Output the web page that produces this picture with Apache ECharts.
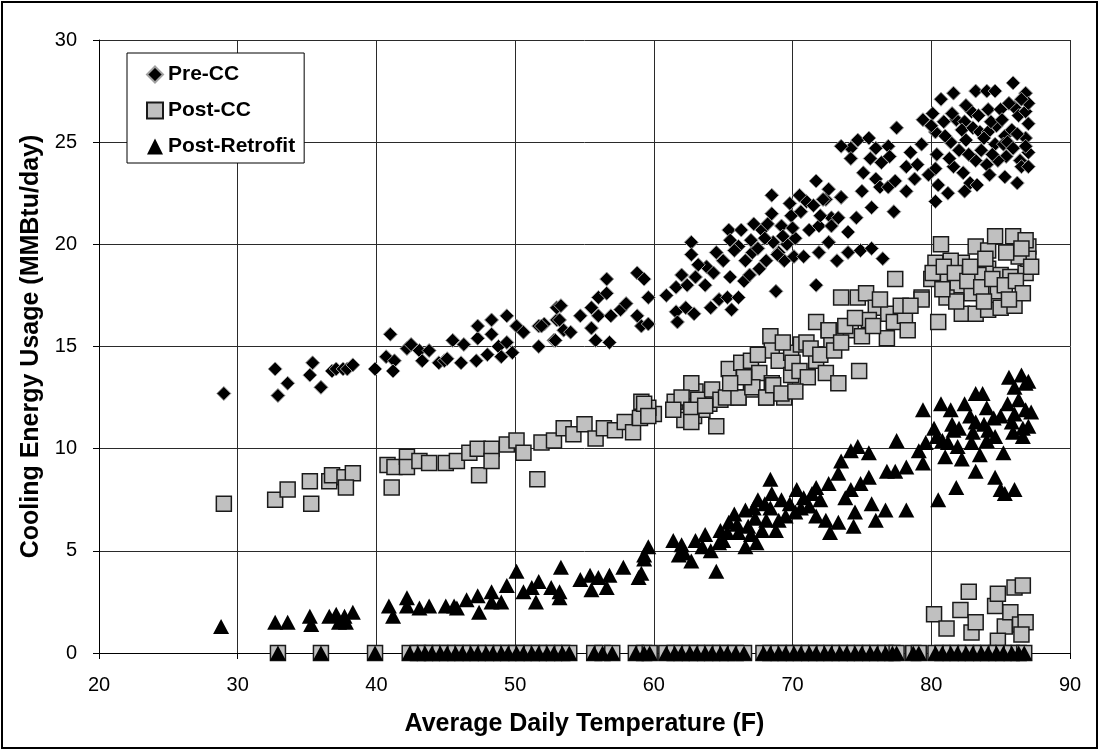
<!DOCTYPE html>
<html>
<head>
<meta charset="utf-8">
<script src="https://cdn.jsdelivr.net/npm/echarts@6/dist/echarts.min.js"></script>
<style>
  html, body { margin: 0; padding: 0; background: #fff; }
  #chart-ctn { width: 1099px; height: 750px; }
</style>
</head>
<body>
<div id="chart-ctn"></div>
<script>
var xTicks = [20, 30, 40, 50, 60, 70, 80, 90];
var yTicks = [0, 5, 10, 15, 20, 25, 30];

// [temperature F, MMBtu/day]
var preCC = [
  [29.0, 12.7], [32.7, 13.9], [33.6, 13.2], [32.9, 12.6], [35.4, 14.2], [35.2, 13.6], [36.0, 13.0],
  [36.8, 13.8], [37.1, 13.9], [37.6, 13.9], [37.9, 13.9], [38.3, 14.1], [39.9, 13.9],
  [41.0, 15.6], [40.7, 14.5], [41.3, 14.3], [41.2, 13.8], [42.2, 14.9], [42.5, 15.1], [43.1, 14.8],
  [43.8, 14.8], [43.3, 14.3], [44.5, 14.2], [44.9, 14.3], [45.1, 14.4], [45.5, 15.3], [46.1, 14.2],
  [46.3, 15.1], [47.2, 14.3], [47.3, 15.4], [47.3, 16.0], [48.3, 16.3], [48.3, 15.6], [48.0, 14.6],
  [48.8, 15.0], [49.0, 14.5], [49.4, 16.5], [49.4, 15.2], [49.8, 14.7], [50.1, 16.0], [50.6, 15.7],
  [51.7, 15.0], [51.7, 16.0], [52.1, 16.1], [52.8, 15.3], [53.0, 16.3], [53.0, 16.9],
  [51.9, 16.0], [52.9, 15.3], [53.3, 17.0], [53.2, 16.3], [53.5, 15.8], [54.0, 15.7], [54.7, 16.5],
  [55.5, 16.9], [56.0, 17.4], [56.6, 17.6], [56.6, 18.3], [55.5, 15.9], [55.8, 15.3], [56.0, 16.5],
  [56.8, 15.2], [56.9, 16.5], [57.6, 16.8], [58.0, 17.1], [58.8, 18.6], [59.3, 18.3], [58.8, 16.5],
  [59.1, 16.0], [59.6, 16.1], [59.6, 17.4], [60.9, 17.5], [61.6, 17.9], [61.6, 16.7], [61.7, 16.2],
  [62.3, 16.9], [62.9, 16.6], [62.0, 18.5], [62.4, 18.0], [63.0, 18.4], [62.7, 20.1], [62.7, 19.5],
  [63.8, 18.9], [64.3, 18.6], [65.0, 19.2], [65.5, 18.4], [63.7, 18.0], [64.1, 16.9], [64.7, 17.3],
  [65.3, 17.4], [65.6, 16.8], [66.1, 17.4], [66.5, 18.2], [65.4, 20.7], [66.3, 20.7], [65.5, 20.2],
  [66.1, 19.9], [66.6, 19.2], [67.1, 19.6], [67.2, 21.0], [67.8, 20.7], [68.1, 19.2], [68.5, 22.4],
  [68.5, 21.5], [68.6, 20.1], [69.2, 20.9], [69.4, 19.2], [69.9, 21.4], [70.2, 20.3], [70.6, 21.6],
  [71.0, 22.1], [71.2, 20.7], [71.7, 23.1], [71.9, 20.9], [72.4, 22.2], [72.6, 20.1], [72.8, 21.3],
  [68.8, 17.7], [71.7, 18.0], [67.5, 19.8], [68.0, 20.3], [69.0, 19.6], [69.6, 20.0], [70.1, 19.4],
  [70.8, 19.4], [71.9, 19.6], [72.6, 20.1], [73.2, 19.2], [74.0, 19.6], [74.9, 19.7], [75.7, 19.8],
  [76.5, 19.3], [72.2, 22.2], [72.8, 20.9], [73.5, 22.3], [74.0, 20.6], [74.6, 21.3], [73.3, 21.3],
  [72.6, 22.7], [73.5, 22.3], [74.7, 25.1], [75.5, 25.2], [74.2, 24.7], [73.5, 24.8], [76.0, 24.7],
  [76.9, 24.8], [74.2, 24.2], [75.6, 24.2], [75.1, 23.5], [76.0, 23.2], [76.3, 22.8], [76.9, 22.8],
  [77.4, 23.1], [78.2, 23.8], [78.8, 23.2], [78.2, 22.6], [77.3, 21.6], [75.7, 21.8], [75.0, 22.6],
  [77.5, 25.7], [79.4, 26.1], [80.1, 26.4], [80.7, 27.1], [81.6, 27.4], [80.3, 25.5], [79.3, 24.9],
  [80.4, 24.4], [81.4, 25.0], [81.8, 26.1], [82.4, 26.0], [82.2, 25.6], [82.9, 26.5], [83.2, 27.5],
  [84.0, 27.5], [84.6, 27.5], [85.9, 27.9], [86.8, 27.4], [84.1, 26.6], [85.0, 26.6], [86.0, 26.7],
  [82.5, 25.1], [83.0, 25.7], [83.5, 25.5], [84.1, 25.5], [84.7, 25.8], [85.3, 25.3], [85.8, 25.6],
  [86.8, 25.2], [80.3, 23.7], [80.5, 22.9], [81.2, 22.5], [80.3, 22.1], [81.6, 23.8], [82.3, 23.5],
  [82.8, 23.0], [82.4, 22.6], [83.2, 24.1], [84.0, 23.9], [84.6, 24.9], [85.2, 24.9], [85.4, 24.3],
  [86.4, 24.1], [87.0, 24.5], [85.3, 23.3], [86.3, 26.3], [86.8, 26.5], [84.8, 24.1], [85.5, 25.0],
  [86.2, 25.4], [86.8, 24.8], [87.0, 25.9], [84.4, 24.4], [83.8, 25.2], [82.0, 24.6], [81.0, 25.3],
  [86.5, 23.8], [87.0, 26.9],
  [80.0, 25.8], [80.9, 26.0], [81.5, 26.4], [82.5, 26.8], [83.4, 26.3], [84.3, 26.0], [85.1, 26.1],
  [85.6, 26.9], [86.5, 27.1], [81.3, 24.2], [82.7, 24.4], [83.6, 24.6], [84.2, 23.4], [85.9, 24.7],
  [86.2, 23.0], [87.0, 23.8], [83.3, 22.9], [79.8, 23.4], [78.5, 24.5], [79.0, 23.9], [77.0, 24.3],
  [76.4, 24.0], [67.0, 20.2], [68.2, 21.0], [69.3, 20.4], [70.0, 20.8], [70.5, 22.4], [71.5, 21.9],
  [72.0, 21.4], [69.8, 22.0], [68.9, 19.5], [67.6, 18.8], [66.9, 18.5], [64.5, 19.6], [63.2, 19.0],
  [65.8, 19.7]
];

var postCC = [
  [29.0, 7.3], [32.7, 7.5], [33.6, 8.0], [35.2, 8.4], [35.3, 7.3], [36.6, 8.4], [36.8, 8.7],
  [37.7, 8.6], [38.3, 8.8], [37.8, 8.1], [41.1, 8.1], [40.8, 9.2], [41.3, 9.1], [42.2, 9.6],
  [42.2, 9.1], [43.1, 9.4], [43.8, 9.3], [45.0, 9.3], [45.8, 9.4], [46.7, 9.8], [47.3, 10.0],
  [47.4, 8.7], [48.3, 10.0], [48.3, 9.4], [49.4, 10.2], [50.1, 10.4], [50.6, 9.8], [51.6, 8.5],
  [51.9, 10.3], [52.8, 10.4], [53.5, 11.0], [54.2, 10.7], [55.0, 11.2], [55.8, 10.5], [56.4, 11.0],
  [57.2, 10.9], [57.9, 11.3], [58.5, 10.8], [59.0, 11.5], [60.0, 11.7], [61.8, 11.9], [62.2, 11.4],
  [62.9, 11.6], [63.5, 11.9], [64.0, 12.2], [63.0, 12.8], [61.5, 12.3], [59.1, 12.3], [59.6, 12.0],
  [62.7, 13.2], [62.0, 12.5], [63.2, 12.4], [64.2, 12.9], [64.8, 12.4], [65.4, 13.9], [66.3, 14.2],
  [66.1, 12.5], [67.0, 12.9], [68.1, 12.5], [68.4, 15.5], [68.5, 14.8], [67.0, 14.3], [67.6, 13.7],
  [68.5, 13.2], [69.0, 14.3], [69.9, 13.6], [69.4, 12.5], [69.9, 14.7], [70.6, 15.1], [71.0, 15.2],
  [71.7, 16.2], [71.7, 14.3], [72.6, 15.8], [72.8, 15.1], [72.4, 13.7], [59.3, 12.2], [59.6, 11.6],
  [61.4, 11.9], [62.7, 11.9], [63.7, 12.1], [64.5, 11.1], [65.2, 12.5], [66.1, 12.5], [67.1, 13.0],
  [68.1, 12.5], [68.6, 13.1], [69.2, 12.7], [62.7, 11.3], [73.3, 13.2], [77.4, 18.3], [72.6, 15.8],
  [73.5, 17.4], [74.7, 17.4], [74.2, 15.8], [75.3, 17.6], [76.0, 16.9], [75.5, 16.3], [76.9, 16.6],
  [77.3, 16.2], [78.1, 16.5], [79.3, 17.4], [78.3, 15.8], [80.7, 20.0], [80.3, 19.1], [80.0, 18.3],
  [80.5, 16.2], [81.2, 18.2], [82.2, 19.1], [81.9, 18.0], [81.4, 19.2], [83.2, 19.9], [84.1, 19.7],
  [84.6, 20.4], [85.9, 20.4], [87.0, 19.9], [84.1, 18.8], [83.4, 18.5], [85.0, 18.5], [85.7, 18.4],
  [86.8, 18.6], [82.9, 17.6], [84.0, 17.9], [84.8, 17.7], [82.2, 16.6], [83.2, 16.6], [84.1, 16.8],
  [85.0, 16.9], [81.1, 17.4], [79.3, 17.3], [80.1, 18.6], [87.0, 19.3], [86.3, 19.4], [86.0, 17.0],
  [86.8, 20.2], [87.2, 18.9],
  [80.9, 18.9], [81.7, 18.6], [82.6, 18.2], [83.6, 17.9], [84.4, 18.3], [85.3, 18.0], [86.1, 18.2],
  [86.6, 17.6], [85.6, 17.3], [83.8, 17.2], [82.8, 18.9], [83.9, 19.3], [85.4, 19.6], [86.5, 19.8],
  [81.8, 17.2], [80.8, 17.8], [70.0, 14.2], [70.5, 13.8], [71.3, 14.9], [72.0, 14.6], [73.0, 14.8],
  [73.8, 16.0], [74.5, 16.4], [75.0, 15.5], [76.3, 17.3], [76.8, 15.4], [77.8, 17.0], [78.5, 17.0],
  [69.3, 15.2], [67.5, 14.6], [66.5, 13.5], [65.5, 13.2], [73.5, 15.2], [75.8, 16.0], [74.8, 13.8],
  [71.1, 13.5], [70.2, 12.8],
  [80.2, 1.9], [81.1, 1.2], [82.1, 2.1], [82.7, 3.0], [82.9, 1.0], [83.2, 1.5], [84.6, 2.3],
  [84.8, 2.9], [85.3, 1.3], [85.7, 2.0], [86.0, 3.2], [86.6, 3.3], [86.4, 1.4], [86.8, 1.5],
  [84.8, 0.6], [86.5, 0.9]
];

var postRetrofit = [
  [28.8, 1.3], [32.7, 1.5], [33.6, 1.5], [35.2, 1.8], [35.3, 1.4], [36.6, 1.8], [37.1, 1.9],
  [37.7, 1.8], [38.3, 2.0], [37.8, 1.5], [37.3, 1.5], [40.9, 2.3], [41.2, 1.8], [42.2, 2.7],
  [42.2, 2.3], [43.1, 2.2], [43.8, 2.3], [45.0, 2.3], [45.6, 2.3], [45.8, 2.2], [46.5, 2.6],
  [47.3, 2.8], [47.4, 2.0], [48.3, 3.0], [48.3, 2.5], [49.0, 2.5], [49.4, 3.3], [50.1, 4.0],
  [50.6, 3.0], [51.2, 3.2], [51.7, 3.5], [51.5, 2.5], [52.6, 3.2], [53.2, 3.0], [53.3, 4.2],
  [53.2, 2.7], [54.7, 3.6], [55.4, 3.8], [56.0, 3.7], [56.8, 3.8], [55.5, 3.1], [56.6, 3.2],
  [57.8, 4.2], [58.9, 3.7], [59.3, 4.8], [59.6, 5.2], [59.3, 4.6], [59.1, 3.9], [61.4, 5.5],
  [62.2, 4.9], [62.7, 4.5], [63.0, 5.5], [63.7, 5.8], [64.1, 5.0], [64.5, 4.0], [64.7, 5.4],
  [65.4, 6.4], [65.3, 5.9], [66.1, 5.9], [66.6, 7.0], [67.2, 7.1], [66.6, 5.2], [67.4, 5.4],
  [68.4, 8.5], [68.5, 7.8], [68.4, 7.1], [68.1, 6.5], [68.8, 6.0], [69.2, 7.5], [69.5, 6.7],
  [70.3, 8.0], [70.2, 6.9], [70.6, 7.1], [71.4, 7.8], [71.7, 8.1], [71.7, 6.7], [72.4, 6.5],
  [72.6, 8.3], [73.3, 8.8], [73.5, 9.4], [72.7, 5.9], [73.3, 6.4], [73.8, 7.6], [74.2, 9.9],
  [74.7, 10.1], [75.5, 9.8], [74.2, 8.0], [74.5, 6.9], [74.4, 6.2], [74.9, 8.3], [75.5, 8.6],
  [75.7, 7.3], [76.0, 6.5], [76.7, 7.0], [76.8, 8.9], [77.4, 8.9], [77.5, 10.4], [78.2, 9.1],
  [78.2, 7.0], [79.1, 9.9], [79.4, 9.3], [79.6, 10.3], [79.4, 11.9], [80.5, 7.5], [80.4, 10.6],
  [80.7, 12.2], [81.4, 11.9], [81.6, 10.9], [81.8, 8.1], [82.2, 9.5], [82.4, 12.2], [83.2, 12.7],
  [83.2, 11.3], [83.7, 12.7], [84.0, 12.0], [84.1, 10.9], [83.2, 8.9], [84.6, 8.6], [85.0, 8.0],
  [85.2, 9.8], [85.0, 11.6], [86.0, 11.7], [86.8, 11.9], [86.0, 13.0], [86.8, 13.2], [86.6, 11.0],
  [85.9, 10.8], [84.6, 10.6], [82.9, 10.3], [83.5, 9.7], [81.9, 10.1], [81.2, 10.3], [85.3, 7.8],
  [86.0, 8.0], [85.6, 13.5], [86.5, 13.6], [87.0, 13.3], [87.2, 11.8], [87.0, 11.1],
  [66.0, 6.3], [66.8, 6.2], [67.3, 6.6], [67.8, 6.0], [67.0, 5.8], [68.0, 7.3], [69.0, 6.5],
  [65.8, 6.8], [67.5, 7.5], [69.8, 7.3], [70.8, 7.6], [71.2, 7.2], [72.0, 7.5], [65.0, 5.5],
  [63.5, 5.2], [64.8, 6.0], [62.0, 5.3], [61.8, 4.8], [80.8, 10.4], [81.5, 11.2], [82.0, 11.0],
  [82.8, 11.6], [83.8, 11.2], [84.5, 11.5], [85.5, 12.2], [86.3, 12.4], [80.2, 11.0], [81.0, 9.6],
  [83.0, 10.8], [84.0, 10.4], [85.8, 11.3], [86.6, 10.6]
];

// days where both post-CC and post-retrofit usage read 0
var zeroTemps = [
  32.9, 36.0, 39.9,
  42.4, 43.0, 43.5, 44.0, 44.6, 45.1, 45.7, 46.2, 46.8, 47.3, 47.9, 48.4, 49.0, 49.5, 50.1,
  50.6, 51.2, 51.7, 52.3, 52.8, 53.4, 53.9,
  55.7, 56.3, 57.0, 58.7, 59.3, 59.7,
  60.9, 61.5, 62.0, 62.6, 63.1, 63.7, 64.2, 64.8, 65.3, 65.9, 66.5,
  67.9, 68.4, 69.0, 69.5, 70.1, 70.6, 71.2, 71.7, 72.3, 72.8, 73.4, 73.9, 74.5, 75.0, 75.6,
  76.1, 76.7, 77.2, 77.5, 78.7, 79.1,
  80.3, 80.8, 81.4, 81.9, 82.5, 83.0, 83.6, 84.1, 84.7, 85.2, 85.8, 86.3, 86.7
];

var zeroPoints = zeroTemps.map(function(t) { return [t, 0]; });

var font = 'Arial, "Liberation Sans", sans-serif';
var myChart = echarts.init(document.getElementById('chart-ctn'));

var option = {
  backgroundColor: '#fff',
  animation: false,
  textStyle: { fontFamily: font },
  graphic: [{
    type: 'rect',
    shape: { x: 2, y: 2, width: 1095, height: 746 },
    style: { fill: 'none', stroke: '#000', lineWidth: 2 },
    z: 100
  }],
  grid: { left: 99, right: 29, top: 40, bottom: 97 },
  legend: {
    orient: 'vertical',
    left: 127,
    top: 53,
    padding: [11, 9, 6, 19],
    itemGap: 15,
    itemWidth: 16,
    itemHeight: 16,
    backgroundColor: '#fff',
    borderColor: '#000',
    borderWidth: 1,
    textStyle: { fontFamily: font, fontSize: 21, fontWeight: 'bold', color: '#000' },
    data: ['Pre-CC', 'Post-CC', 'Post-Retrofit']
  },
  xAxis: {
    type: 'value',
    min: xTicks[0],
    max: xTicks[xTicks.length - 1],
    interval: 10,
    name: 'Average Daily Temperature (F)',
    nameLocation: 'middle',
    nameGap: 59,
    nameTextStyle: { fontFamily: font, fontSize: 25, fontWeight: 'bold', color: '#000' },
    axisLine: { lineStyle: { color: '#000', width: 1 } },
    axisTick: { show: true, length: 6, lineStyle: { color: '#000' } },
    axisLabel: { fontFamily: font, fontSize: 20, color: '#000', margin: 22 },
    splitLine: { show: true, lineStyle: { color: '#2a2a2a', width: 1 } }
  },
  yAxis: {
    type: 'value',
    min: yTicks[0],
    max: yTicks[yTicks.length - 1],
    interval: 5,
    name: 'Cooling Energy Usage (MMBtu/day)',
    nameLocation: 'middle',
    nameGap: 52,
    nameTextStyle: { fontFamily: font, fontSize: 25, fontWeight: 'bold', color: '#000' },
    axisLine: { show: true, lineStyle: { color: '#000', width: 1 } },
    axisTick: { show: true, length: 6, lineStyle: { color: '#000' } },
    axisLabel: { fontFamily: font, fontSize: 20, color: '#000', margin: 22 },
    splitLine: { show: true, lineStyle: { color: '#2a2a2a', width: 1 } }
  },
  series: [
    {
      name: 'Pre-CC',
      type: 'scatter',
      symbol: 'diamond',
      symbolSize: 14,
      itemStyle: { color: '#000', borderColor: '#a0a0a0', borderWidth: 1, opacity: 1 },
      data: preCC
    },
    {
      name: 'Post-CC',
      type: 'scatter',
      symbol: 'rect',
      symbolSize: 15,
      itemStyle: { color: '#c0c0c0', borderColor: '#1a1a1a', borderWidth: 1.5, opacity: 1 },
      data: postCC.concat(zeroPoints)
    },
    {
      name: 'Post-Retrofit',
      type: 'scatter',
      symbol: 'triangle',
      symbolSize: [16, 15],
      itemStyle: { color: '#000', opacity: 1 },
      data: postRetrofit.concat(zeroPoints)
    }
  ]
};

myChart.setOption(option);
</script>
</body>
</html>
